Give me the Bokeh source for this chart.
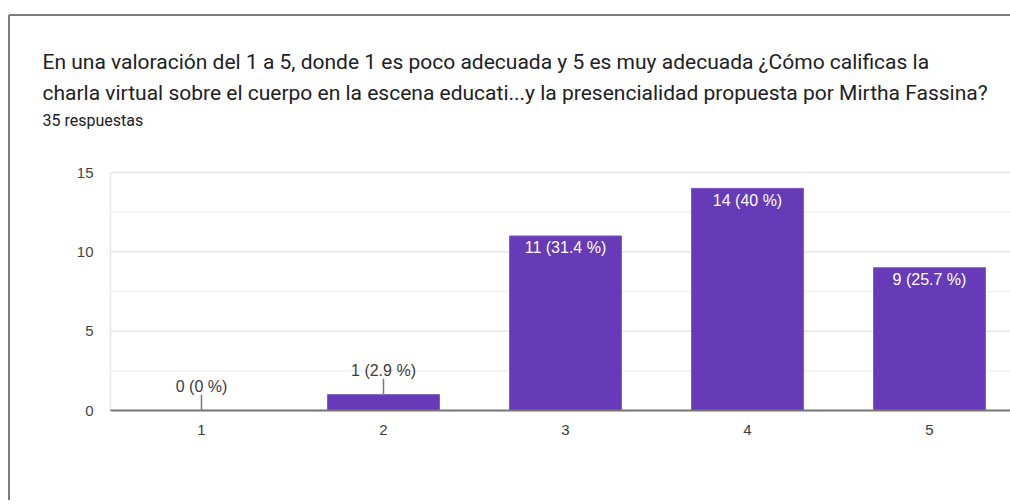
from bokeh.plotting import figure
from bokeh.models import ColumnDataSource, Range1d
from bokeh.core.properties import value
from bokeh.embed import file_html
from bokeh.resources import INLINE

# ---- data ----
categories = ["1", "2", "3", "4", "5"]
counts = [0, 1, 11, 14, 9]
percents = ["0", "2.9", "31.4", "40", "25.7"]
y_ticks = [0, 5, 10, 15]
y_minor = [2.5, 7.5, 12.5]
title_line1 = "En una valoración del 1 a 5, donde 1 es poco adecuada y 5 es muy adecuada  ¿Cómo calificas la"
title_line2 = "charla virtual sobre el cuerpo en la escena educati...y la presencialidad propuesta por Mirtha Fassina?"
subtitle = "35 respuestas"

# ---- layout constants (pixels) ----
PURPLE = "#673ab7"
W, H = 1010, 500
PL, PT, PB = 110, 172, 410     # plot area left / top / bottom
band = 182.0                   # pixels per category
YMAX = max(y_ticks)
ppu = (PB - PT) / YMAX         # pixels per count unit

x0 = 0.5 - PL / band
x1 = x0 + W / band
y1 = PB / ppu
y0 = y1 - H / ppu

p = figure(width=W, height=H, output_backend="svg", toolbar_location=None,
           x_range=Range1d(x0, x1), y_range=Range1d(y0, y1),
           min_border=0, min_border_left=0, min_border_right=0, min_border_top=0, min_border_bottom=0)
p.axis.visible = False
p.grid.visible = False
p.outline_line_color = None
p.background_fill_color = "white"
p.border_fill_color = "white"

xs = list(range(1, len(categories) + 1))
xl = 0.5                     # left edge of the plot area (data)

# grid lines
p.segment(x0=[xl] * len(y_minor), y0=y_minor, x1=[x1] * len(y_minor), y1=y_minor,
          line_color="#f1f1f1", line_width=1.5)
p.segment(x0=[xl] * len(y_ticks), y0=y_ticks, x1=[x1] * len(y_ticks), y1=y_ticks,
          line_color="#e6e6e6", line_width=1.5)
p.segment(x0=[xl], y0=[0], x1=[xl], y1=[YMAX], line_color="#e6e6e6", line_width=1.5)

# bars
p.vbar(x=xs, top=counts, width=0.615, bottom=0, fill_color=PURPLE, line_color="#7c5cc6", line_width=1)

# baseline
p.segment(x0=[xl], y0=[0], x1=[x1], y1=[0], line_color="#777777", line_width=2)

# data labels
labels = [f"{c} ({p_} %)" for c, p_ in zip(counts, percents)]
inside = [c >= 3 for c in counts]
src_in = ColumnDataSource(dict(x=[x for x, i in zip(xs, inside) if i],
                               y=[c for c, i in zip(counts, inside) if i],
                               t=[l for l, i in zip(labels, inside) if i]))
p.text(x="x", y="y", text="t", source=src_in, text_align="center", text_baseline="middle",
       y_offset=12, text_color="white", text_font=value("Liberation Sans"), text_font_size="16px")

lead = 1.0
src_out = ColumnDataSource(dict(x=[x for x, i in zip(xs, inside) if not i],
                                y=[c for c, i in zip(counts, inside) if not i],
                                y1=[c + lead for c, i in zip(counts, inside) if not i],
                                t=[l for l, i in zip(labels, inside) if not i]))
p.segment(x0="x", y0="y", x1="x", y1="y1", source=src_out, line_color="#7a7a7a", line_width=1.5)
p.text(x="x", y="y1", text="t", source=src_out, text_align="center", text_baseline="middle",
       y_offset=-8, text_color="#3c3c3c", text_font=value("Liberation Sans"), text_font_size="16px")

# tick labels
p.text(x=xs, y=[0] * len(xs), text=categories, text_align="center", text_baseline="middle",
       y_offset=19, text_color="#3c3c3c", text_font=value("Liberation Sans"), text_font_size="15px")
p.text(x=[xl] * len(y_ticks), y=y_ticks, text=[str(t) for t in y_ticks], text_align="right",
       text_baseline="middle", x_offset=-17, text_color="#444444",
       text_font=value("Liberation Sans"), text_font_size="15px")

# titles (placed from the top-left corner of the canvas)
p.text(x=[x0, x0], y=[y1, y1], text=[title_line1, title_line2], x_offset=42, y_offset=[61, 92],
       text_align="left", text_baseline="alphabetic", text_color="#202124",
       text_font=value("Roboto"), text_font_size="21px")
p.text(x=[x0], y=[y1], text=[subtitle], x_offset=42, y_offset=120,
       text_align="left", text_baseline="alphabetic", text_color="#202124",
       text_font=value("Roboto"), text_font_size="16px")

# card border (top and left edges)
bx = x0 + 8.5 / band
by = y1 - 14.5 / ppu
p.segment(x0=[bx, bx], y0=[by, by], x1=[x1 + 1, bx], y1=[by, y0 - 1],
          line_color="#7d7d7d", line_width=2)

open("out.html", "w").write(file_html(p, INLINE))
